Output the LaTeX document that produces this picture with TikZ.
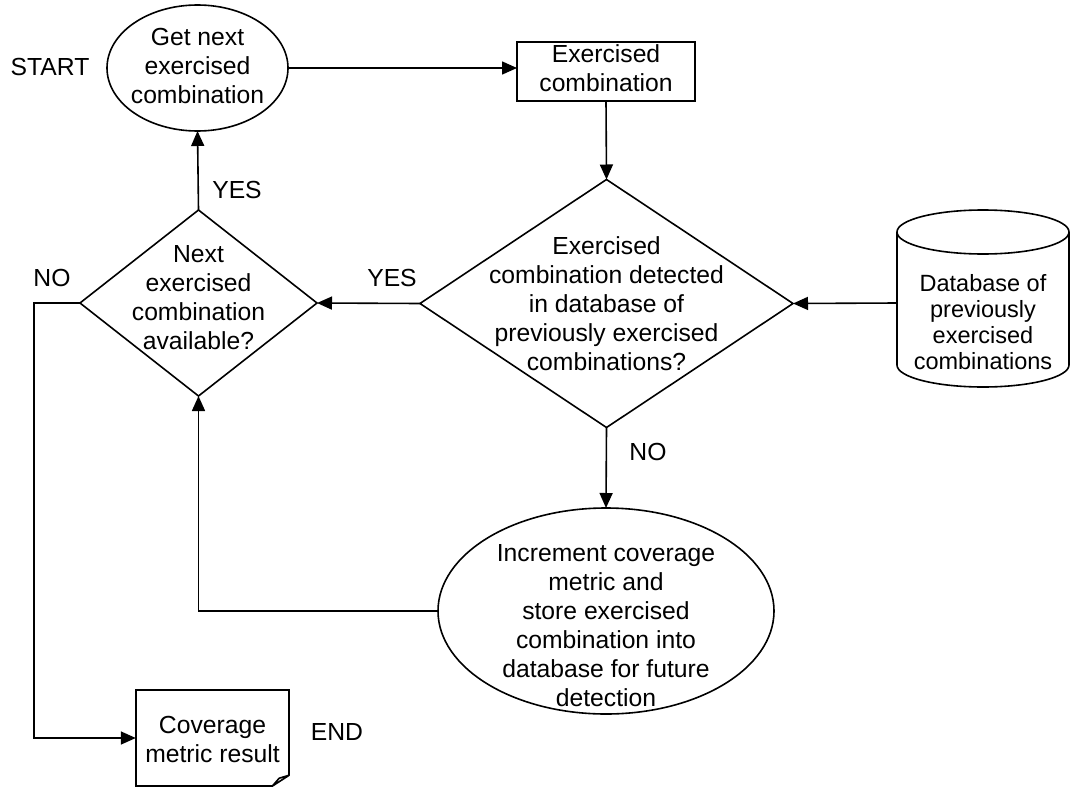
\documentclass[tikz,border=0pt]{standalone}
\usepackage{fontspec}
\setmainfont{Liberation Sans}
\usetikzlibrary{shapes.geometric,arrows.meta,calc}
\begin{document}
\begin{tikzpicture}[x=1pt,y=-1pt,
  every node/.style={font=\fontsize{24.7}{29}\selectfont},
  shapeline/.style={draw=black,line width=1.6pt,inner sep=0pt,outer sep=0pt},
  txt/.style={align=center,inner sep=0pt},
  lbl/.style={inner sep=0pt},
  flow/.style={line width=1.6pt,-{Triangle[length=15pt,width=13pt]}},
  plain/.style={line width=1.6pt}]
\useasboundingbox (0,0) rectangle (1070,787);

% Start: fetch the next exercised combination
\node[shapeline,ellipse,minimum width=181pt,minimum height=126pt] (get) at (197.5,68) {};
\node[txt] (gettxt) at (197.5,66) {Get next\\exercised\\combination};
\node[lbl] (start) at (50,67) {START};

% Current combination
\node[shapeline,rectangle,minimum width=178pt,minimum height=59pt] (exc) at (606,71.5) {};
\node[txt] (exctxt) at (606,68) {Exercised\\combination};

% Lookup decision
\node[shapeline,diamond,minimum width=373pt,minimum height=248pt] (chk) at (606.5,303.5) {};
\node[txt] (chktxt) at (606.5,304) {Exercised\\combination detected\\in database of\\previously exercised\\combinations?};

% Loop decision
\node[shapeline,diamond,minimum width=237pt,minimum height=186pt] (nxt) at (198.5,303) {};
\node[txt] (nxttxt) at (198.5,298) {Next\\exercised\\combination\\available?};

% Coverage update
\node[shapeline,ellipse,minimum width=336pt,minimum height=206pt] (inc) at (606,611) {};
\node[txt] (inctxt) at (606,626) {Increment coverage\\metric and\\store exercised\\combination into\\database for future\\detection};

% Database cylinder
\draw[plain] (897,232) -- (897,365) arc[start angle=180,end angle=360,x radius=86pt,y radius=22pt] -- (1069,232);
\draw[plain] (983,232) ellipse[x radius=86pt,y radius=22pt];
\coordinate (db) at (897,303);
\node[txt,font=\fontsize{23.5}{26}\selectfont] (dbtxt) at (983,322) {Database of\\previously\\exercised\\combinations};

% Result document with a curled corner
\node[inner sep=0pt,minimum width=153pt,minimum height=96pt] (res) at (212.5,738) {};
\draw[plain,line join=miter] ($(res.south east)+(0,-11)$) -- (res.north east) -- (res.north west) -- (res.south west) -- ($(res.south east)+(-17,0)$);
\draw[plain,line join=round] ($(res.south east)+(0,-11)$) -- ($(res.south east)+(-10,-8)$) -- ($(res.south east)+(-17,0)$) -- cycle;
\node[txt] (restxt) at (212.5,739) {Coverage\\metric result};
\node[lbl] (end) at (337,732) {END};

% Connectors
\coordinate (nocorner) at (34,303);
\draw[flow] (get.east) -- (get.east -| exc.west);
\draw[flow] (exc.south) -- (chk.north);
\draw[flow] (db) -- (chk.east);
\draw[flow] (chk.west) -- (nxt.east);
\draw[flow] (nxt.north) -- (get.south);
\draw[flow] (chk.south) -- (inc.north);
\draw[flow] (inc.west) -| (nxt.south);
\draw[flow] (nxt.west) -- (nocorner) |- (res.west);

% Branch labels
\node[lbl] (yes1) at (237,190) {YES};
\node[lbl] (yes2) at (392,278) {YES};
\node[lbl] (no1) at (52,278) {NO};
\node[lbl] (no2) at (648,452) {NO};
\end{tikzpicture}
\end{document}
